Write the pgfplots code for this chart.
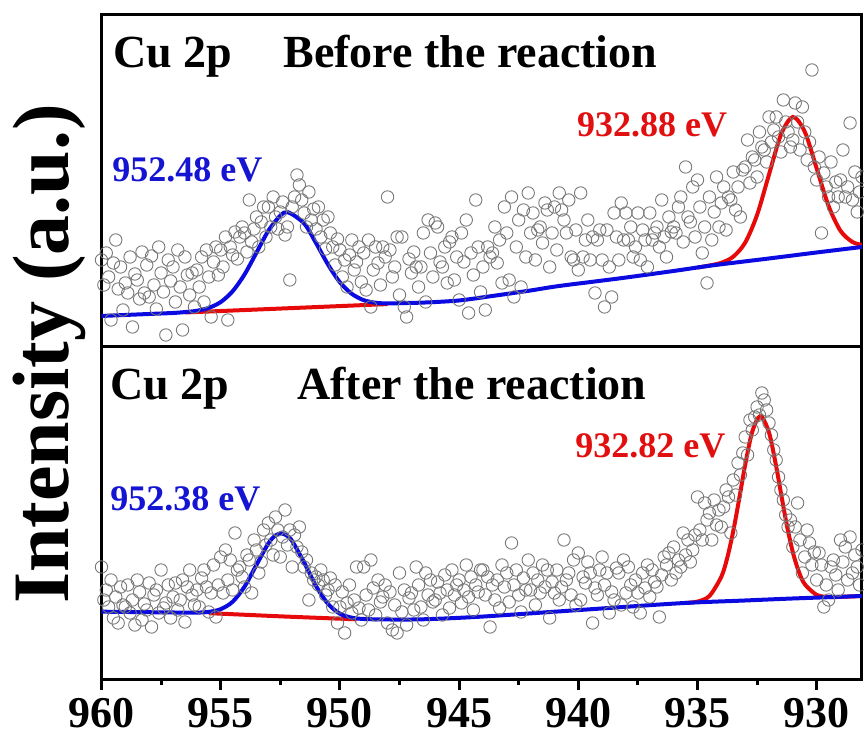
\documentclass[border=0pt]{standalone}
\usepackage{fontspec}
\setmainfont{Liberation Serif}
\usepackage{pgfplots}
\pgfplotsset{compat=1.18}
\definecolor{circgray}{RGB}{120,120,120}
\definecolor{fitblue}{RGB}{10,10,225}
\definecolor{fitred}{RGB}{230,10,10}
\definecolor{lblblue}{RGB}{20,20,210}
\definecolor{lblred}{RGB}{225,15,15}
\newcommand{\titlefont}{\fontsize{23}{27}\selectfont\bfseries}
\newcommand{\peakfont}{\fontsize{18}{21}\selectfont\bfseries}
\pgfplotsset{
  panel/.style={width=380.25pt, scale only axis, x dir=reverse, xmin=928.1, xmax=960,
    ytick=\empty, ymin=0, axis line style={line width=1.5pt}},
  scat/.style={only marks, mark=o, mark size=3.1pt, circgray, mark options={line width=0.45pt}},
  fit/.style={no marks, smooth, line width=2pt},
}
\begin{document}
\begin{tikzpicture}
% ---------------- bottom panel: after the reaction ----------------
\begin{axis}[panel, name=bot, height=166.5pt, ymax=333,
  xtick={930,935,940,945,950,955,960}, minor x tick num=1, tick align=outside, xtick pos=bottom,
  major tick length=5pt, minor tick length=2.5pt, tick style={line width=1.5pt, black},
  /pgf/number format/assume math mode=true,
  xticklabel style={font=\fontsize{22}{24}\selectfont\bfseries, inner sep=0pt, yshift=-4pt}]
\addplot[scat] coordinates {
(960.0,113) (959.9,80) (959.8,90) (959.7,73) (959.6,100) (959.5,62) (959.4,83) (959.3,57) (959.2,93) (959.1,75)
(959.0,73) (958.9,95) (958.8,67) (958.7,80) (958.6,55) (958.5,100) (958.4,88) (958.3,60) (958.2,76) (958.1,70)
(958.0,97) (957.9,53) (957.8,85) (957.7,90) (957.6,67) (957.5,110) (957.4,72) (957.3,77) (957.2,95) (957.1,62)
(957.0,83) (956.9,97) (956.8,70) (956.7,80) (956.6,100) (956.5,58) (956.4,93) (956.3,110) (956.2,85) (956.1,75)
(956.0,90) (955.9,73) (955.8,102) (955.7,110) (955.6,93) (955.5,68) (955.4,87) (955.3,115) (955.2,63) (955.1,95)
(955.0,123) (954.9,87) (954.8,130) (954.7,100) (954.6,120) (954.5,90) (954.4,147) (954.3,110) (954.2,113) (954.1,103)
(954.0,93) (953.9,125) (953.8,120) (953.7,87) (953.6,140) (953.5,130) (953.4,107) (953.3,118) (953.2,150) (953.1,135)
(953.0,157) (952.9,140) (952.8,125) (952.7,163) (952.6,150) (952.5,123) (952.4,143) (952.3,170) (952.2,135) (952.1,150)
(952.0,113) (951.9,145) (951.8,133) (951.7,153) (951.6,128) (951.5,113) (951.4,120) (951.3,80) (951.2,107) (951.1,100)
(951.0,103) (950.9,95) (950.8,110) (950.7,100) (950.6,85) (950.5,90) (950.4,102) (950.3,73) (950.2,95) (950.1,57)
(950.0,73) (949.9,88) (949.8,47) (949.7,77) (949.6,95) (949.5,67) (949.4,80) (949.3,113) (949.2,72) (949.1,60)
(949.0,113) (948.9,85) (948.8,70) (948.7,120) (948.6,92) (948.5,65) (948.4,100) (948.3,78) (948.2,83) (948.1,95)
(948.0,57) (947.9,88) (947.8,50) (947.7,75) (947.6,47) (947.5,107) (947.4,68) (947.3,90) (947.2,55) (947.1,82)
(947.0,87) (946.9,70) (946.8,113) (946.7,95) (946.6,73) (946.5,60) (946.4,107) (946.3,85) (946.2,100) (946.1,78)
(946.0,80) (945.9,98) (945.8,87) (945.7,65) (945.6,105) (945.5,90) (945.4,72) (945.3,110) (945.2,85) (945.1,95)
(945.0,100) (944.9,77) (944.8,90) (944.7,115) (944.6,83) (944.5,103) (944.4,70) (944.3,95) (944.2,88) (944.1,110)
(944.0,110) (943.9,85) (943.8,103) (943.7,53) (943.6,95) (943.5,80) (943.4,100) (943.3,72) (943.2,115) (943.1,93)
(943.0,107) (942.9,78) (942.8,137) (942.7,95) (942.6,110) (942.5,85) (942.4,68) (942.3,102) (942.2,90) (942.1,120)
(942.0,90) (941.9,107) (941.8,75) (941.7,100) (941.6,87) (941.5,115) (941.4,93) (941.3,110) (941.2,62) (941.1,98)
(941.0,87) (940.9,110) (940.8,80) (940.7,93) (940.6,140) (940.5,100) (940.4,107) (940.3,85) (940.2,120) (940.1,75)
(940.0,127) (939.9,80) (939.8,103) (939.7,97) (939.6,118) (939.5,107) (939.4,57) (939.3,92) (939.2,85) (939.1,110)
(939.0,123) (938.9,95) (938.8,107) (938.7,67) (938.6,88) (938.5,80) (938.4,112) (938.3,107) (938.2,75) (938.1,120)
(938.0,87) (937.9,113) (937.8,95) (937.7,73) (937.6,100) (937.5,87) (937.4,67) (937.3,107) (937.2,92) (937.1,115)
(937.0,83) (936.9,110) (936.8,98) (936.7,93) (936.6,63) (936.5,105) (936.4,123) (936.3,115) (936.2,127) (936.1,100)
(936.0,133) (935.9,107) (935.8,120) (935.7,113) (935.6,147) (935.5,125) (935.4,140) (935.3,118) (935.2,130) (935.1,145)
(935.0,183) (934.9,150) (934.8,140) (934.7,177) (934.6,160) (934.5,167) (934.4,140) (934.3,180) (934.2,155) (934.1,170)
(934.0,153) (933.9,173) (933.8,190) (933.7,183) (933.6,147) (933.5,200) (933.4,185) (933.3,217) (933.2,205) (933.1,227)
(933.0,243) (932.9,225) (932.8,260) (932.7,250) (932.6,263) (932.5,273) (932.4,265) (932.3,287) (932.2,280) (932.1,270)
(932.0,257) (931.9,245) (931.8,230) (931.7,220) (931.6,203) (931.5,190) (931.4,180) (931.3,165) (931.2,153) (931.1,160)
(931.0,133) (930.9,153) (930.8,177) (930.7,140) (930.6,107) (930.5,123) (930.4,150) (930.3,137) (930.2,115) (930.1,128)
(930.0,100) (929.9,127) (929.8,115) (929.7,73) (929.6,95) (929.5,80) (929.4,113) (929.3,120) (929.2,105) (929.1,90)
(929.0,140) (928.9,118) (928.8,133) (928.7,100) (928.6,143) (928.5,107) (928.4,125) (928.3,113) (928.2,95) (928.1,130)
(928.0,120)
};
\addplot[fit, fitred] coordinates {(955.5,66.85) (952.45,63.6) (949.3,60.65)};
\addplot[fit, fitred] coordinates {
(935.5,77.1) (935,78.4) (934.5,84.0) (934,103.3) (933.75,122.3) (933.5,148.8) (933.25,181.2) (933,215.0)
(932.7,248.5) (932.36,263.9) (932,247.4) (931.7,213.7) (931.5,187.0) (931.25,154.6) (931,127.7) (930.75,108.3)
(930.5,95.8) (930,85.1) (929.5,83.0) (929,83.1) (928.07,84)};
\addplot[fit, fitblue] coordinates {
(960,68.3) (957,67.5) (956,67.4) (955.5,68.1) (955,70.8) (954.5,78.2) (954,93.3) (953.5,115.1) (953,136.6)
(952.7,144.6) (952.45,146.6) (952.2,144.0) (952,138.8) (951.5,117.6) (951,93.9) (950.5,76.2) (950,66.3)
(949.5,62.3) (949,61.0) (948,60.5) (946.5,60.7) (944.1,63.3) (940,69.9) (935.76,76.7) (933,79.5) (931,81.5) (928.07,84)};
\node[anchor=base west, inner sep=0pt, font=\titlefont] at (axis description cs:0.0112,0.841) {Cu 2p};
\node[anchor=base west, inner sep=0pt, font=\titlefont] at (axis description cs:0.257,0.841) {After the reaction};
\node[anchor=base west, inner sep=0pt, font=\peakfont, text=lblblue] at (axis description cs:0.0112,0.5075) {952.38 eV};
\node[anchor=base west, inner sep=0pt, font=\peakfont, text=lblred] at (axis description cs:0.6226,0.6667) {932.82 eV};
\end{axis}
% ---------------- top panel: before the reaction ----------------
\begin{axis}[panel, name=top, at={(bot.north west)}, anchor=south west, height=166pt, ymax=332, xtick=\empty]
\addplot[scat] coordinates {
(960.0,87) (959.9,62) (959.8,94) (959.7,70) (959.6,27) (959.5,84) (959.4,107) (959.3,58) (959.2,80) (959.1,37)
(959.0,64) (958.9,54) (958.8,90) (958.7,20) (958.6,73) (958.5,67) (958.4,48) (958.3,95) (958.2,54) (958.1,82)
(958.0,50) (957.9,91) (957.8,62) (957.7,38) (957.6,100) (957.5,74) (957.4,55) (957.3,12) (957.2,87) (957.1,66)
(957.0,80) (956.9,45) (956.8,97) (956.7,60) (956.6,17) (956.5,90) (956.4,72) (956.3,52) (956.2,74) (956.1,40)
(956.0,77) (955.9,60) (955.8,90) (955.7,45) (955.6,97) (955.5,70) (955.4,30) (955.3,85) (955.2,100) (955.1,72)
(955.0,97) (954.9,80) (954.8,110) (954.7,27) (954.6,100) (954.5,92) (954.4,115) (954.3,88) (954.2,110) (954.1,120)
(954.0,114) (953.9,95) (953.8,147) (953.7,105) (953.6,118) (953.5,130) (953.4,100) (953.3,125) (953.2,140) (953.1,110)
(953.0,140) (952.9,120) (952.8,150) (952.7,130) (952.6,118) (952.5,135) (952.4,145) (952.3,112) (952.2,120) (952.1,67)
(952.0,140) (951.9,150) (951.8,172) (951.7,162) (951.6,147) (951.5,134) (951.4,120) (951.3,155) (951.2,127) (951.1,138)
(951.0,118) (950.9,140) (950.8,110) (950.7,127) (950.6,98) (950.5,130) (950.4,114) (950.3,100) (950.2,82) (950.1,108)
(950.0,97) (949.9,70) (949.8,87) (949.7,60) (949.6,92) (949.5,107) (949.4,77) (949.3,85) (949.2,100) (949.1,65)
(949.0,94) (948.9,57) (948.8,107) (948.7,40) (948.6,77) (948.5,100) (948.4,84) (948.3,62) (948.2,100) (948.1,90)
(948.0,150) (947.9,97) (947.8,70) (947.7,80) (947.6,110) (947.5,52) (947.4,110) (947.3,40) (947.2,30) (947.1,88)
(947.0,74) (946.9,95) (946.8,80) (946.7,60) (946.6,80) (946.5,114) (946.4,45) (946.3,127) (946.2,94) (946.1,70)
(946.0,124) (945.9,120) (945.8,85) (945.7,80) (945.6,100) (945.5,64) (945.4,105) (945.3,110) (945.2,67) (945.1,90)
(945.0,47) (944.9,114) (944.8,85) (944.7,127) (944.6,34) (944.5,94) (944.4,72) (944.3,147) (944.2,100) (944.1,55)
(944.0,80) (943.9,37) (943.8,100) (943.7,90) (943.6,94) (943.5,120) (943.4,84) (943.3,107) (943.2,64) (943.1,140)
(943.0,114) (942.9,67) (942.8,150) (942.7,50) (942.6,100) (942.5,127) (942.4,60) (942.3,137) (942.2,90) (942.1,154)
(942.0,114) (941.9,134) (941.8,87) (941.7,117) (941.6,120) (941.5,104) (941.4,144) (941.3,137) (941.2,80) (941.1,114)
(941.0,140) (940.9,97) (940.8,154) (940.7,137) (940.6,127) (940.5,114) (940.4,147) (940.3,90) (940.2,87) (940.1,117)
(940.0,77) (939.9,154) (939.8,90) (939.7,107) (939.6,127) (939.5,87) (939.4,110) (939.3,54) (939.2,107) (939.1,117)
(939.0,87) (938.9,40) (938.8,117) (938.7,80) (938.6,50) (938.5,134) (938.4,110) (938.3,87) (938.2,144) (938.1,107)
(938.0,134) (937.9,107) (937.8,120) (937.7,90) (937.6,100) (937.5,134) (937.4,87) (937.3,117) (937.2,107) (937.1,80)
(937.0,134) (936.9,107) (936.8,114) (936.7,120) (936.6,100) (936.5,147) (936.4,110) (936.3,90) (936.2,130) (936.1,115)
(936.0,120) (935.9,114) (935.8,140) (935.7,150) (935.6,105) (935.5,180) (935.4,130) (935.3,125) (935.2,160) (935.1,110)
(935.0,167) (934.9,140) (934.8,94) (934.7,120) (934.6,64) (934.5,150) (934.4,107) (934.3,135) (934.2,170) (934.1,120)
(934.0,144) (933.9,160) (933.8,117) (933.7,150) (933.6,147) (933.5,175) (933.4,137) (933.3,160) (933.2,130) (933.1,177)
(933.0,180) (932.9,207) (932.8,164) (932.7,190) (932.6,187) (932.5,170) (932.4,215) (932.3,200) (932.2,197) (932.1,185)
(932.0,230) (931.9,205) (931.8,217) (931.7,230) (931.6,210) (931.5,195) (931.4,247) (931.3,225) (931.2,215) (931.1,200)
(931.0,207) (930.9,244) (930.8,225) (930.7,197) (930.6,240) (930.5,215) (930.4,187) (930.3,205) (930.2,277) (930.1,180)
(930.0,167) (929.9,190) (929.8,114) (929.7,174) (929.6,160) (929.5,150) (929.4,185) (929.3,140) (929.2,165) (929.1,150)
(929.0,167) (928.9,197) (928.8,150) (928.7,160) (928.6,224) (928.5,147) (928.4,175) (928.3,135) (928.2,155) (928.1,170)
(928.0,160)
};
\addplot[fit, fitred] coordinates {(956.5,34.5) (952,38.9) (948,42.9)};
\addplot[fit, fitred] coordinates {
(935,79.4) (934.5,81.5) (934,84.2) (933.5,90.3) (933,104.3) (932.5,132.1) (932,172.5) (931.5,212.2) (931,230)
(930.5,215.2) (930,178.5) (929.5,140.9) (929,116.1) (928.5,105) (928.1,102.1)};
\addplot[fit, fitblue] coordinates {
(960,31) (958,33) (957,34) (956.5,34.9) (956,36.2) (955.5,39.1) (955,44.9) (954.5,55.7) (954,72.5) (953.5,94.3)
(953,116.2) (952.5,131.3) (952.17,134.7) (951.5,123.5) (951,103.9) (950.5,82.5) (950,64.7) (949.5,53.1)
(949,46.8) (948.5,44.2) (948,43.5) (947.5,43.8) (946.4,44.5) (945,46.5) (943.6,51) (942,56.5) (940.8,61)
(938.3,68.5) (936,76) (934.4,81.5) (932,88.5) (930,94.5) (928.1,100)};
\node[anchor=base west, inner sep=0pt, font=\titlefont] at (axis description cs:0.015,0.843) {Cu 2p};
\node[anchor=base west, inner sep=0pt, font=\titlefont] at (axis description cs:0.2387,0.843) {Before the reaction};
\node[anchor=base west, inner sep=0pt, font=\peakfont, text=lblblue] at (axis description cs:0.0138,0.497) {952.48 eV};
\node[anchor=base west, inner sep=0pt, font=\peakfont, text=lblred] at (axis description cs:0.625,0.6325) {932.88 eV};
\end{axis}
\node[rotate=90, anchor=base, inner sep=0pt, font=\fontsize{40}{44}\selectfont\bfseries]
  at ([xshift=-16.25pt, yshift=-3.5pt]bot.north west) {Intensity (a.u.)};
\pgfresetboundingbox
\path ([xshift=-50.75pt, yshift=-31pt]bot.south west) rectangle ([xshift=381.25pt, yshift=340pt]bot.south west);
\end{tikzpicture}
\end{document}
